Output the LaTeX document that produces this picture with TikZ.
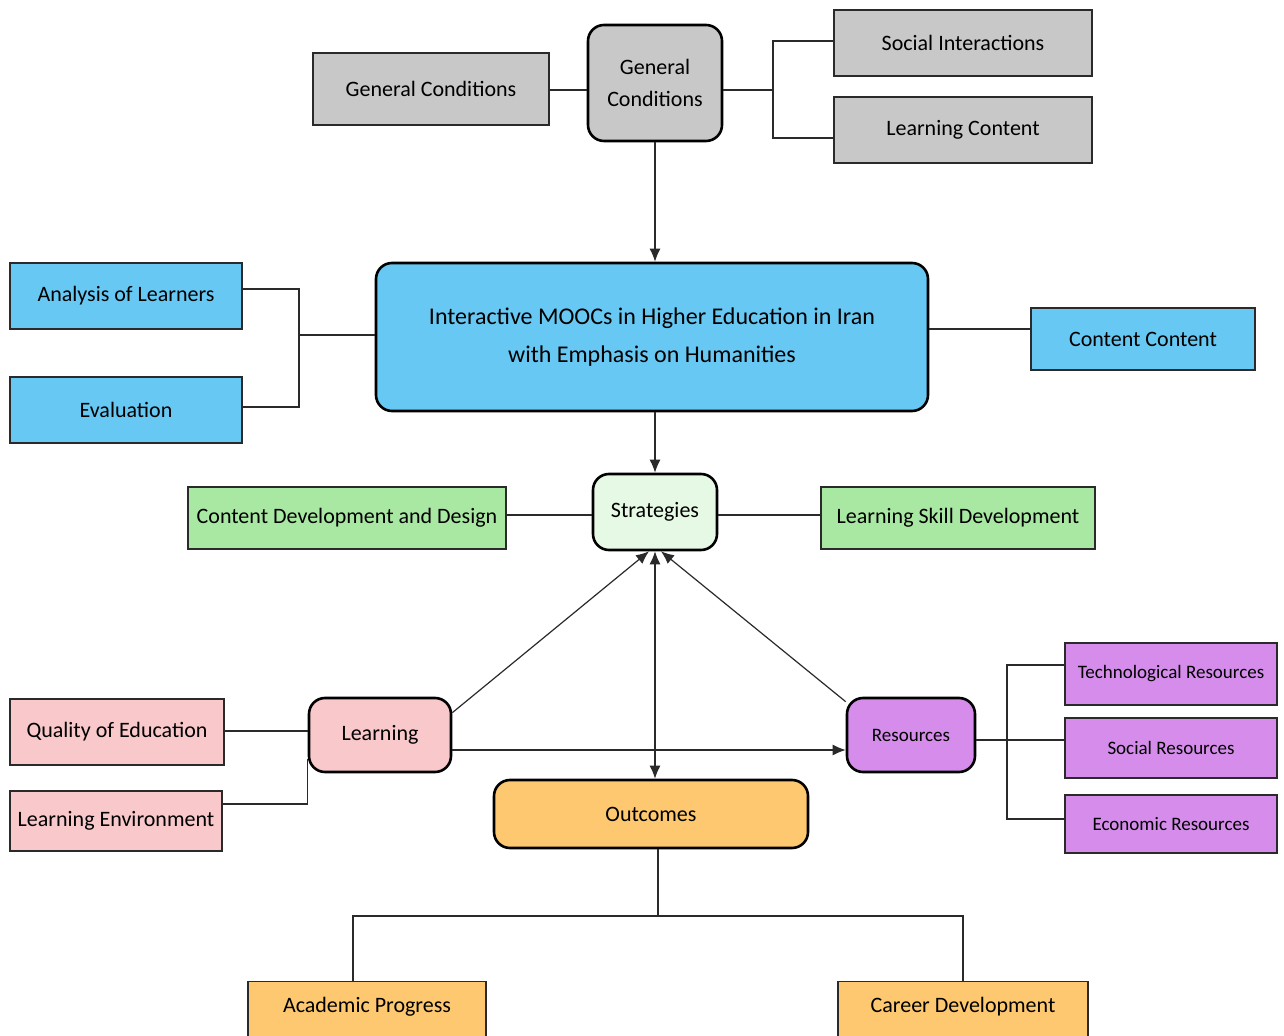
\documentclass[tikz,border=0pt]{standalone}
\usepackage{fontspec}
\setmainfont{Carlito}
\usetikzlibrary{arrows.meta}
\definecolor{grayfill}{HTML}{C8C8C8}
\definecolor{bluefill}{HTML}{66C8F3}
\definecolor{greenfill}{HTML}{A9E8A3}
\definecolor{palegreen}{HTML}{E6F9E4}
\definecolor{pinkfill}{HTML}{F8C8CB}
\definecolor{purplefill}{HTML}{D58CEB}
\definecolor{orangefill}{HTML}{FDC870}
\definecolor{edge}{HTML}{2A2A2A}
\tikzset{
  leaf/.style={rectangle, draw=edge, line width=0.7pt, font=\fontsize{11}{13}\selectfont, inner sep=3pt},
  hub/.style={rectangle, draw=black, line width=1.3pt, rounded corners=8pt, font=\fontsize{11}{13}\selectfont, align=center},
  link/.style={draw=edge, line width=0.6pt},
  arr/.style={link, -{Latex[length=6.5pt,width=5.5pt]}}
}
\begin{document}
\begin{tikzpicture}[x=0.5pt,y=-0.5pt]
        \clip (0,0) rectangle (1284,1036);
        \fill[white] (0,0) rectangle (1284,1036);
        % General conditions at the top
        \node[hub, fill=grayfill, minimum width=67pt, minimum height=58pt] (gcc) at (655,83) {General\\[3pt]Conditions};
        \node[leaf, fill=grayfill, minimum width=118pt, minimum height=36pt] (gcl) at (431,89) {General Conditions};
        \node[leaf, fill=grayfill, minimum width=129pt, minimum height=33pt] (si) at (963,43) {Social Interactions};
        \node[leaf, fill=grayfill, minimum width=129pt, minimum height=33pt] (lc) at (963,130) {Learning Content};
        \coordinate (jgc) at (773,90);
        \draw[link] (gcl.east |- jgc) -- (gcc.west |- jgc);
        \draw[link] (gcc.east |- jgc) -- (jgc);
        \draw[link] ([yshift=1pt]si.west) -| (jgc) |- ([yshift=-4pt]lc.west);
        % Main topic
        \node[hub, fill=bluefill, minimum width=276pt, minimum height=74pt, font=\fontsize{12}{14}\selectfont] (main) at (652,337)
          {Interactive MOOCs in Higher Education in Iran\\[5pt]with Emphasis on Humanities};
        \draw[arr] (gcc.south) -- (main.north -| gcc.south);
        \node[leaf, fill=bluefill, minimum width=116pt, minimum height=33pt] (al) at (126,296) {Analysis of Learners};
        \node[leaf, fill=bluefill, minimum width=116pt, minimum height=33pt] (ev) at (126,410) {Evaluation};
        \node[leaf, fill=bluefill, minimum width=112pt, minimum height=31pt] (cc) at (1143,339) {Content Content};
        \coordinate (jmain) at (299,335);
        \draw[link] (main.west |- jmain) -- (jmain);
        \draw[link] ([yshift=3.5pt]al.east) -| (jmain) |- ([yshift=1.5pt]ev.east);
        \draw[link] ([yshift=5pt]cc.west -| main.east) -- ([yshift=5pt]cc.west);
        % Strategies
        \node[hub, fill=palegreen, minimum width=62pt, minimum height=38pt] (str) at (655,512) {Strategies};
        \draw[arr] (main.south -| gcc.south) -- (str.north -| gcc.south);
        \node[leaf, fill=greenfill, minimum width=159pt, minimum height=31pt] (cdd) at (347,518) {Content Development and Design};
        \node[leaf, fill=greenfill, minimum width=137pt, minimum height=31pt] (lsd) at (958,518) {Learning Skill Development};
        \draw[link] ([yshift=1.5pt]cdd.east) -- ([yshift=1.5pt]cdd.east -| str.west);
        \draw[link] ([yshift=1.5pt]lsd.west -| str.east) -- ([yshift=1.5pt]lsd.west);
        % Learning
        \node[hub, fill=pinkfill, minimum width=71pt, minimum height=37pt] (lrn) at (380,735) {Learning};
        \node[leaf, fill=pinkfill, minimum width=107pt, minimum height=33pt] (qe) at (117,732) {Quality of Education};
        \node[leaf, fill=pinkfill, minimum width=106pt, minimum height=30pt] (le) at (116,821) {Learning Environment};
        \draw[link, line width=1pt] ([yshift=0.5pt]qe.east) -- ([yshift=0.5pt]qe.east -| lrn.west);
        \draw[link] ([yshift=8.5pt]le.east) -| ([yshift=-12pt]lrn.west);
        % Resources
        \node[hub, fill=purplefill, minimum width=64pt, minimum height=37pt, font=\fontsize{9.5}{11}\selectfont] (res) at (911,735) {Resources};
        \node[leaf, fill=purplefill, minimum width=106pt, minimum height=31pt, font=\fontsize{9.5}{11}\selectfont] (tr) at (1171,674) {Technological Resources};
        \node[leaf, fill=purplefill, minimum width=106pt, minimum height=30pt, font=\fontsize{9.5}{11}\selectfont] (sr) at (1171,748) {Social Resources};
        \node[leaf, fill=purplefill, minimum width=106pt, minimum height=29pt, font=\fontsize{9.5}{11}\selectfont] (er) at (1171,824) {Economic Resources};
        \coordinate (jres) at (1007,740);
        \draw[link] (jres -| res.east) -- (jres -| sr.west);
        \draw[link] ([yshift=4.5pt]tr.west) -| (jres) |- ([yshift=2.5pt]er.west);
        % Outcomes
        \node[hub, fill=orangefill, minimum width=157pt, minimum height=34pt] (out) at (651,814) {Outcomes};
        \draw[arr] ([yshift=-8pt]lrn.north east) -- ([xshift=-3pt]str.south);
        \draw[arr] ([yshift=-2.5pt]res.north west) -- ([xshift=3pt]str.south);
        \draw[arr] ([yshift=-7.5pt]lrn.east) -- ([yshift=-7.5pt]res.west);
        \draw[link, {Latex[length=6.5pt,width=5.5pt]}-{Latex[length=6.5pt,width=5.5pt]}] (str.south -| gcc.south) -- (out.north -| gcc.south);
        \node[leaf, fill=orangefill, anchor=north, minimum width=119pt, inner ysep=8pt, text depth=20pt] (ap) at (367,981) {Academic Progress};
        \node[leaf, fill=orangefill, anchor=north, minimum width=125pt, inner ysep=8pt, text depth=20pt] (cd) at (963,981) {Career Development};
        \coordinate (jout) at (658,916);
        \draw[link] (out.south -| jout) -- (jout);
        \draw[link] ([xshift=-7pt]ap.north) |- (jout) -| (cd.north);
    \end{tikzpicture}
\end{document}
